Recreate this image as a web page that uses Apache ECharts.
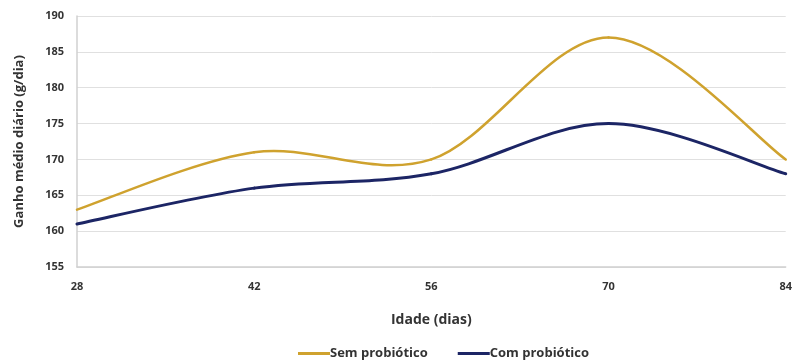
<!DOCTYPE html>
<html><head><meta charset="utf-8">
<script src="https://cdn.jsdelivr.net/npm/echarts@6/dist/echarts.min.js"></script>
<style>html,body{margin:0;padding:0;background:#fff}#c{width:795px;height:363px}</style>
</head><body><div id="c"></div>
<script>
var days = [28, 42, 56, 70, 84];
var semProbiotico = [163, 171, 170, 187, 170];
var comProbiotico = [161, 166, 168, 175, 168];
var seriesNames = ['Sem probiótico', 'Com probiótico'];
var colors = ['#cfa22e', '#1c2565'];
var widths = [2.5, 3];

function pairs(xs, ys){ return xs.map(function(x,i){ return [x, ys[i]]; }); }

// Smooth (Catmull-Rom style, as in spreadsheet "smoothed line") through the data,
// each segment placed with the chart's own coordinate system (api.coord).
function smoothRender(xs, ys, color, width){
  return function(params, api){
    var i = params.dataIndex;
    if (i === 0) return null;
    var n = xs.length;
    var p = function(k){ k = Math.max(0, Math.min(n-1, k)); return api.coord([xs[k], ys[k]]); };
    var p0 = p(i-2), p1 = p(i-1), p2 = p(i), p3 = p(i+1);
    return {
      type:'bezierCurve',
      shape:{
        x1:p1[0], y1:p1[1], x2:p2[0], y2:p2[1],
        cpx1:p1[0] + (p2[0]-p0[0])/6, cpy1:p1[1] + (p2[1]-p0[1])/6,
        cpx2:p2[0] - (p3[0]-p1[0])/6, cpy2:p2[1] - (p3[1]-p1[1])/6
      },
      style:{stroke:color, lineWidth:width, fill:null, lineCap:'round'},
      silent:true
    };
  };
}

var font = "'Open Sans', sans-serif";
var chart = echarts.init(document.getElementById('c'), null, {renderer:'canvas'});
chart.setOption({
  animation:false,
  grid:{left:77, right:8, top:16, bottom:96},
  legend:{
    top:347, left:298, itemWidth:32, itemHeight:3, itemGap:30, icon:'rect', padding:0,
    textStyle:{fontFamily:font, fontWeight:'bold', fontSize:13, color:'#333', padding:[0,0,0,-5]},
    data:seriesNames
  },
  xAxis:{
    type:'value', min:28, max:84, interval:14,
    name:'Idade (dias)', nameLocation:'middle', nameGap:46,
    nameTextStyle:{fontFamily:font, fontWeight:'bold', fontSize:14, color:'#333'},
    axisLine:{show:true, lineStyle:{color:'#d0d0d0', width:1.5}},
    axisTick:{show:false},
    splitLine:{show:false},
    axisLabel:{fontFamily:font, fontWeight:'bold', fontSize:11, color:'#333', margin:14}
  },
  yAxis:{
    type:'value', min:155, max:190, interval:5,
    name:'Ganho médio diário (g/dia)', nameLocation:'middle', nameGap:51,
    nameTextStyle:{fontFamily:font, fontWeight:'bold', fontSize:13, color:'#333'},
    axisLine:{show:true, lineStyle:{color:'#d0d0d0', width:1.5}},
    axisTick:{show:false},
    splitLine:{lineStyle:{color:'#e0e0e0', width:1}},
    axisLabel:{fontFamily:font, fontWeight:'bold', fontSize:11, color:'#333', margin:13}
  },
  series:[
    {name:seriesNames[0], type:'custom', coordinateSystem:'cartesian2d',
     itemStyle:{color:colors[0]},
     encode:{x:0, y:1},
     renderItem:smoothRender(days, semProbiotico, colors[0], widths[0]),
     data:pairs(days, semProbiotico)},
    {name:seriesNames[1], type:'custom', coordinateSystem:'cartesian2d',
     itemStyle:{color:colors[1]},
     encode:{x:0, y:1},
     renderItem:smoothRender(days, comProbiotico, colors[1], widths[1]),
     data:pairs(days, comProbiotico)}
  ]
});
</script></body></html>
